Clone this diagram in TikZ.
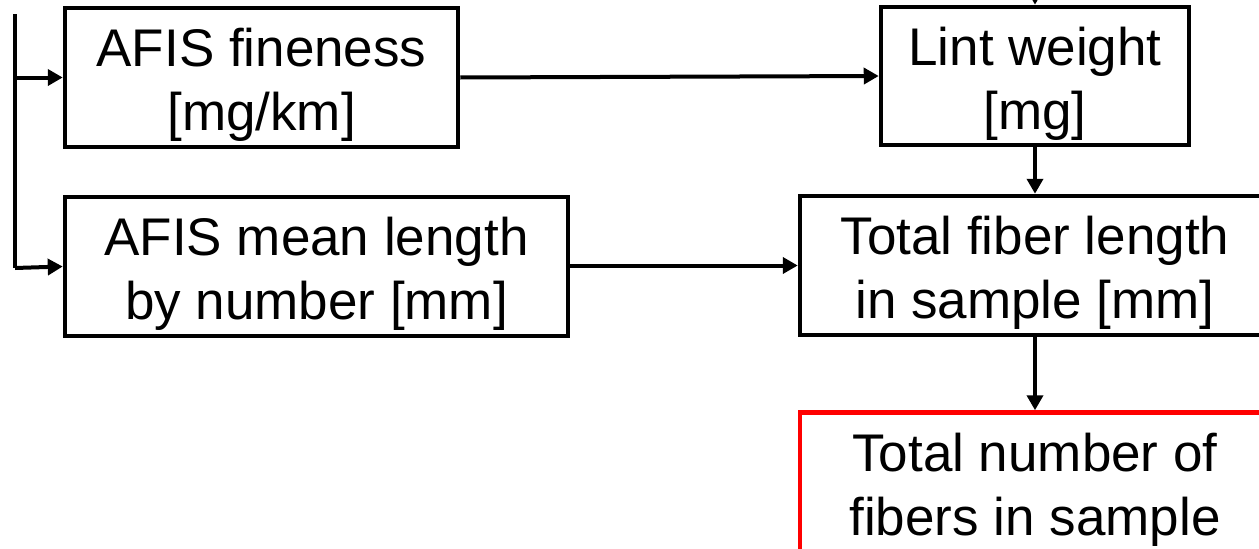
\documentclass[tikz,border=0pt]{standalone}
\usepackage{fontspec}
\setmainfont{Liberation Sans}
\usetikzlibrary{arrows.meta}
\newcommand{\topstrut}{\rule{0pt}{53pt}}
\begin{document}
\begin{tikzpicture}[x=1pt,y=-1pt,
  box/.style={draw=black, line width=4.5pt, rectangle, align=center, inner sep=0pt,
    font=\fontsize{53}{64}\selectfont, fill=white},
  redbox/.style={box, draw={rgb,255:red,255;green,0;blue,0}},
  conn/.style={line width=4pt, -{Triangle[length=15pt,width=16pt]}},
  plain/.style={line width=4pt}]
\useasboundingbox (0,0) rectangle (1259,549);
\clip (0,0) rectangle (1259,549);
\node[box, minimum width=393pt, minimum height=139pt] (fine) at (261.5,77.5) {\topstrut AFIS fineness\\{}[mg/km]};
\node[box, minimum width=503pt, minimum height=139pt] (mean) at (316.5,266.5) {\topstrut AFIS mean length\\ by number [mm]};
\node[box, minimum width=308pt, minimum height=138pt] (lint) at (1035,76) {\topstrut Lint weight\\{}[mg]};
\node[box, minimum width=470pt, minimum height=139pt] (total) at (1035,265.5) {\topstrut Total fiber length\\in sample [mm]};
\node[redbox, minimum width=470pt, minimum height=139pt] (num) at (1035,482) {\topstrut Total number of\\fibers in sample};
\coordinate (top) at (15,14);
\coordinate (bot) at (15,268);
\coordinate (branch) at (15,77.5);
\coordinate (above) at (1035,-20);
\draw[plain] (top) -- (bot);
\draw[conn] (branch) -- (fine.west);
\draw[conn] (bot) -- (mean.west);
\draw[conn] (fine.east) -- (lint.west);
\draw[conn] (mean.east |- total.west) -- (total.west);
\draw[conn] (above) -- (lint.north);
\draw[conn] (lint.south) -- (total.north);
\draw[conn] (total.south) -- (num.north);
\end{tikzpicture}
\end{document}
